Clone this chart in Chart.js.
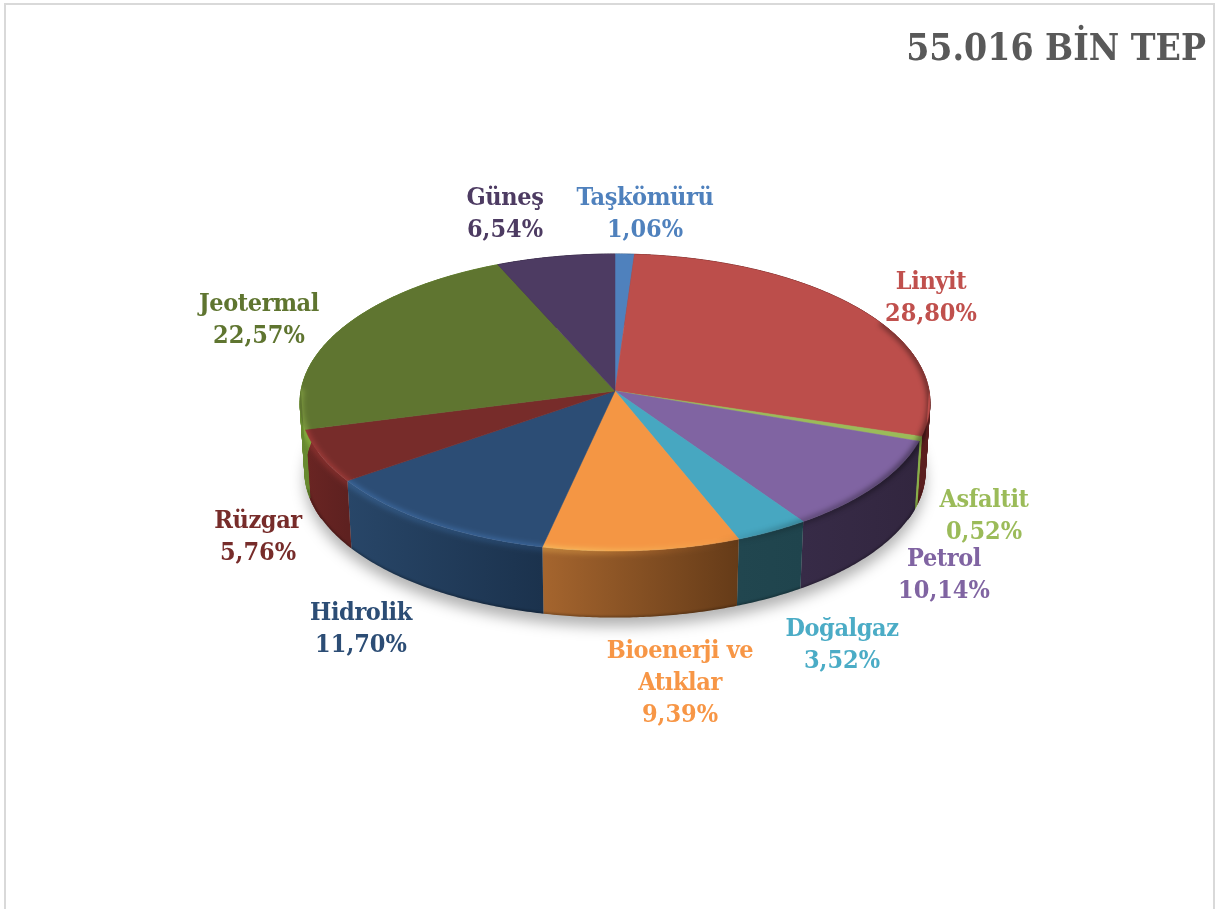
<!DOCTYPE html>
<html>
<head>
<meta charset="utf-8">
<style>
  html, body { margin: 0; padding: 0; background: #fff; }
  #wrap { position: absolute; left: 0; top: 0; width: 1215px; height: 909px; overflow: hidden; }
  #frame { position: absolute; left: 4px; top: 3px; width: 1211px; height: 920px; border: 2px solid #d9d9d9; box-sizing: border-box; }
  canvas { position: absolute; left: 0; top: 0; }
</style>
<script src="https://cdn.jsdelivr.net/npm/chart.js@4"></script>
</head>
<body>
<div id="wrap">
  <div id="frame"></div>
  <canvas id="pieChart" width="1215" height="909"></canvas>
</div>
<script>
const categories = ['Taşkömürü', 'Linyit', 'Asfaltit', 'Petrol', 'Doğalgaz', 'Bioenerji ve Atıklar', 'Hidrolik', 'Rüzgar', 'Jeotermal', 'Güneş'];
const shares = [1.06, 28.80, 0.52, 10.14, 3.52, 9.39, 11.70, 5.76, 22.57, 6.54];
const titleText = '55.016 BİN TEP';

const topColors = ['#4f81bd', '#bc4e4b', '#9bbb59', '#8064a2', '#47a7c1', '#f49644', '#2c4d75', '#772c2a', '#5f7530', '#4d3b62'];
const textColors = ['#4f81bd', '#c0504d', '#9bbb59', '#8064a2', '#4bacc6', '#f79646', '#2c4d75', '#772c2a', '#5f7530', '#4d3b62'];
const wallLeft = ['#2c4a6e', '#5e2020', '#8ab04a', '#372b47', '#21464f', '#a5652e', '#284668', '#6a2523', '#688a30', '#2c2238'];
const wallRight = ['#2c4a6e', '#5a1e1e', '#8ab04a', '#32263f', '#1f444d', '#653b18', '#1b324d', '#5e2120', '#688a30', '#2c2238'];

// centre of each label block and baseline of its first line
const labelAnchors = [[645, 205], [931, 289], [984, 507], [944, 566], [842, 636], [680, 658], [361, 620], [258, 528], [259, 311], [505, 205]];
const lineHeight = 32;
const labelFont = "bold 25px 'DejaVu Serif Condensed'";

// perspective ellipse of the top face
const cx = 615, cy = 391, radX = 314, radY = 147.6, tilt = 0.0774;
const wallDrop = 69, wallShrink = 0.985;

function project(a, s, dy) {
    const d = 1 - tilt * Math.sin(a);
    return [cx + s * radX * Math.cos(a) / d, cy + dy + s * radY * Math.sin(a) / d];
}

function arcPoints(start, end, s, dy) {
    const pts = [];
    const n = Math.max(2, Math.ceil((end - start) / 0.01));
    for (let i = 0; i <= n; i++) {
        pts.push(project(start + (end - start) * i / n, s, dy));
    }
    return pts;
}

function tracePoints(ctx, pts, first) {
    pts.forEach(function (p, i) {
        if (i === 0 && first) ctx.moveTo(p[0], p[1]);
        else ctx.lineTo(p[0], p[1]);
    });
}

const pie3d = {
    id: 'pie3d',
    beforeDatasetsDraw(chart) {
        const ctx = chart.ctx;
        const arcs = chart.getDatasetMeta(0).data;
        const PI = Math.PI;

        // soft shadow under the disc
        ctx.save();
        ctx.filter = 'blur(7px)';
        ctx.fillStyle = 'rgba(0,0,0,0.3)';
        ctx.beginPath();
        tracePoints(ctx, arcPoints(0, 2 * PI, wallShrink, wallDrop + 9), true);
        ctx.closePath();
        ctx.fill();
        ctx.restore();

        // outer walls
        arcs.forEach(function (arc, i) {
            const rim = arcPoints(arc.startAngle, arc.endAngle, 1, 0);
            const low = arcPoints(arc.startAngle, arc.endAngle, wallShrink, wallDrop);
            const xs = rim.map(p => p[0]);
            const minX = Math.min.apply(null, xs), maxX = Math.max.apply(null, xs);
            const g = ctx.createLinearGradient(minX, 0, Math.max(maxX, minX + 1), 0);
            g.addColorStop(0, wallLeft[i]);
            g.addColorStop(1, wallRight[i]);
            ctx.fillStyle = g;
            ctx.strokeStyle = g;
            ctx.lineWidth = 0.8;
            ctx.beginPath();
            tracePoints(ctx, rim, true);
            tracePoints(ctx, low.slice().reverse(), false);
            ctx.closePath();
            ctx.fill();
            // rim and foot ellipses cross near the sides, quads there keep the silhouette solid
            for (let k = 0; k < rim.length - 1; k++) {
                if (rim[k][1] > cy + 60) continue;
                ctx.beginPath();
                tracePoints(ctx, [rim[k], rim[k + 1], low[k + 1], low[k]], true);
                ctx.closePath();
                ctx.fill();
                ctx.stroke();
            }
        });

        // top face
        arcs.forEach(function (arc, i) {
            ctx.fillStyle = topColors[i];
            ctx.strokeStyle = topColors[i];
            ctx.lineWidth = 0.5;
            ctx.beginPath();
            ctx.moveTo(cx, cy);
            tracePoints(ctx, arcPoints(arc.startAngle, arc.endAngle, 1, 0), false);
            ctx.closePath();
            ctx.fill();
            ctx.stroke();
        });

        // bevel along the front rim, kept inside the silhouette
        ctx.save();
        ctx.beginPath();
        tracePoints(ctx, arcPoints(PI, 2 * PI, 1, 0), true);
        tracePoints(ctx, arcPoints(0, PI, wallShrink, wallDrop), false);
        ctx.closePath();
        ctx.clip();

        const light = ctx.createLinearGradient(300, 0, 930, 0);
        light.addColorStop(0, 'rgba(255,255,255,0.32)');
        light.addColorStop(0.45, 'rgba(255,255,255,0.32)');
        light.addColorStop(0.7, 'rgba(255,255,255,0)');
        ctx.globalCompositeOperation = 'overlay';
        ctx.filter = 'blur(2.5px)';
        ctx.strokeStyle = light;
        ctx.lineWidth = 6;
        ctx.beginPath();
        tracePoints(ctx, arcPoints(0.5, PI + 0.02, 1, 1), true);
        ctx.stroke();

        ctx.globalCompositeOperation = 'source-over';
        const shade = ctx.createLinearGradient(300, 0, 930, 0);
        shade.addColorStop(0.66, 'rgba(0,0,0,0)');
        shade.addColorStop(0.8, 'rgba(0,0,0,0.25)');
        shade.addColorStop(1, 'rgba(0,0,0,0.42)');
        ctx.strokeStyle = shade;
        ctx.beginPath();
        tracePoints(ctx, arcPoints(-0.5, PI * 0.6, 1, 0), true);
        ctx.stroke();

        ctx.filter = 'blur(1px)';
        ctx.strokeStyle = 'rgba(0,0,0,0.3)';
        ctx.lineWidth = 2.5;
        ctx.beginPath();
        tracePoints(ctx, arcPoints(0.2, PI - 0.2, wallShrink, wallDrop), true);
        ctx.stroke();
        ctx.restore();

        return false;
    },
    afterDraw(chart) {
        const ctx = chart.ctx;
        ctx.save();
        ctx.textAlign = 'center';
        ctx.textBaseline = 'alphabetic';
        ctx.font = labelFont;
        categories.forEach(function (name, i) {
            const lines = name === 'Bioenerji ve Atıklar' ? ['Bioenerji ve', 'Atıklar'] : [name];
            lines.push(shares[i].toFixed(2).replace('.', ',') + '%');
            ctx.fillStyle = textColors[i];
            lines.forEach(function (line, k) {
                ctx.letterSpacing = k === lines.length - 1 ? '0px' : '-0.4px';
                ctx.fillText(line, labelAnchors[i][0], labelAnchors[i][1] + k * lineHeight);
            });
        });
        ctx.restore();
    }
};

new Chart(document.getElementById('pieChart'), {
    type: 'pie',
    data: {
        labels: categories,
        datasets: [{
            data: shares,
            backgroundColor: topColors,
            borderWidth: 0
        }]
    },
    options: {
        responsive: false,
        animation: false,
        layout: { padding: { top: 18, right: 9 } },
        plugins: {
            legend: { display: false },
            tooltip: { enabled: false },
            title: {
                display: true,
                text: titleText,
                align: 'end',
                color: '#595959',
                font: { family: "'DejaVu Serif Condensed'", size: 37, weight: 'bold' }
            }
        }
    },
    plugins: [pie3d]
});
</script>
</body>
</html>
